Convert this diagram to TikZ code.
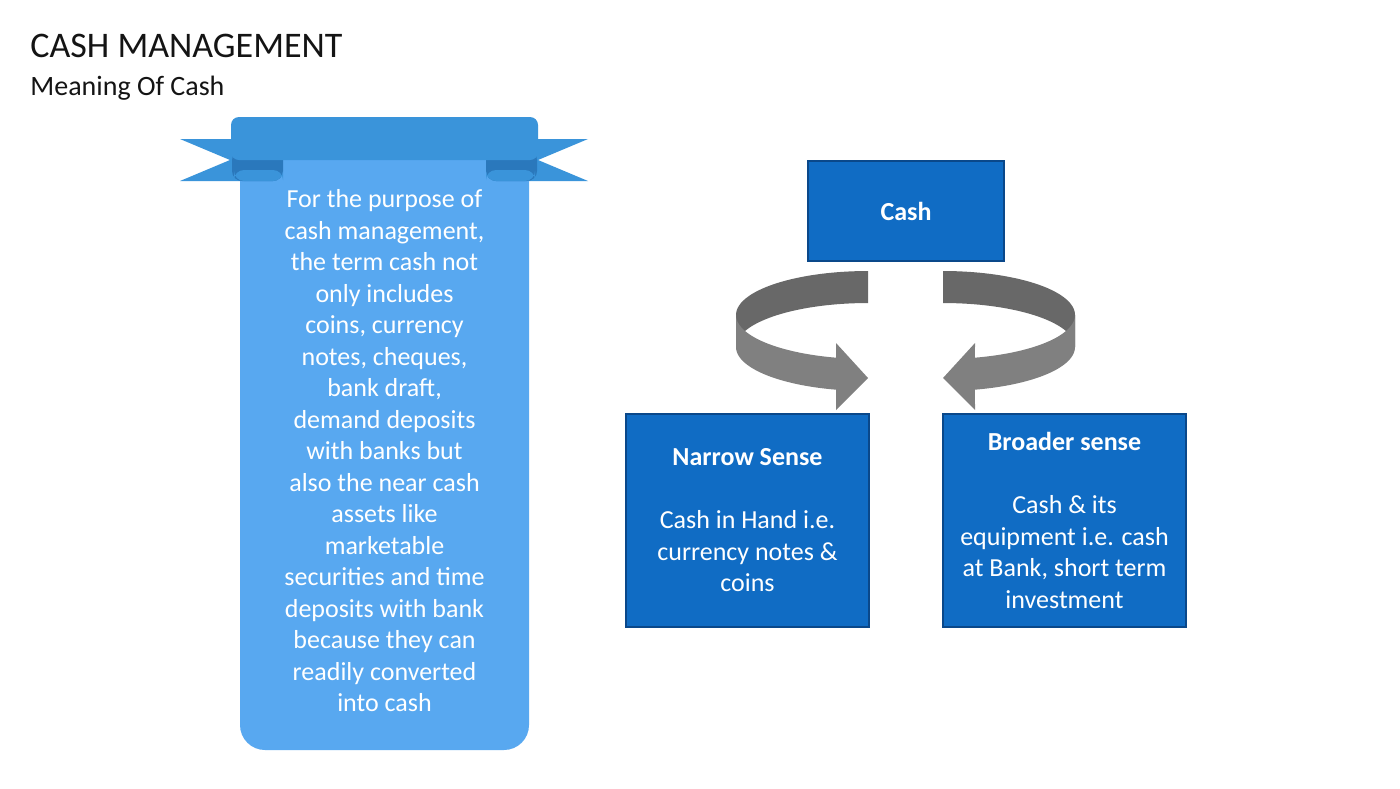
\documentclass[tikz,border=0pt]{standalone}
\usepackage{fontspec}
\setmainfont{Carlito}
\definecolor{boxblue}{RGB}{16,108,196}
\definecolor{boxedge}{RGB}{10,72,138}
\definecolor{ribbonbody}{RGB}{88,168,240}
\definecolor{ribbonband}{RGB}{58,148,218}
\definecolor{ribbonfold}{RGB}{42,120,188}
\definecolor{arrowdark}{RGB}{104,104,104}
\definecolor{arrowlight}{RGB}{128,128,128}
\definecolor{titlegray}{RGB}{20,20,20}
\begin{document}
\begin{tikzpicture}[x=0.5pt, y=-0.5pt,
    bodytext/.style={font=\fontsize{13}{15.75}\selectfont, text=white, align=center},
    bluebox/.style={fill=boxblue, draw=boxedge, line width=1pt, inner sep=0pt, bodytext,
        minimum width=121.5pt, minimum height=106.5pt},
    ring/.style={samples=40, variable=\t}
]
    \useasboundingbox[fill=white] (0,0) rectangle (1400,788);

    % Title
    \node[anchor=base west, inner sep=0pt, text=titlegray, font=\fontsize{18}{22}\selectfont] (title) at (30,57) {CASH MANAGEMENT};
    \node[anchor=base west, inner sep=0pt, text=titlegray, font=\fontsize{14}{17}\selectfont] (subtitle) at (30,95) {Meaning Of Cash};

    % Ribbon
    \fill[ribbonband] (180,139) -- (283,139) -- (283,181) -- (180,181) -- (230,160) -- cycle;
    \fill[ribbonband] (588,139) -- (486,139) -- (486,181) -- (588,181) -- (538,160) -- cycle;
    \fill[ribbonbody, rounded corners=12.5pt] (240,130) rectangle (529,750);
    \fill[ribbonfold, rounded corners=5pt] (232,150) rectangle (283,181);
    \fill[ribbonband, rounded corners=5pt] (234,170) rectangle (283,181);
    \fill[ribbonfold, rounded corners=5pt] (486,150) rectangle (537,181);
    \fill[ribbonband, rounded corners=5pt] (486,170) rectangle (535,181);
    \fill[ribbonband, rounded corners=4pt] (231,117) rectangle (538,160);
    \node[bodytext] (ribbontext) at (384.5,451) {For the purpose of\\cash management,\\the term cash not\\only includes\\coins, currency\\notes, cheques,\\bank draft,\\demand deposits\\with banks but\\also the near cash\\assets like\\marketable\\securities and time\\deposits with bank\\because they can\\readily converted\\into cash};

    % Boxes
    \node[bluebox, minimum width=98pt, minimum height=50pt] (cash) at (906,211) {\textbf{Cash}};
    \node[bluebox] (narrow) at (747.5,520.5) {\textbf{Narrow Sense}\\[15.75pt]Cash in Hand i.e.\\currency notes \&\\coins};
    \node[bluebox] (broad) at (1064.5,520.5) {\textbf{Broader sense}\\[15.75pt]Cash \& its\\equipment i.e. cash\\at Bank, short term\\investment};

    % Curved arrows
    \fill[arrowdark] plot[ring, domain=90:180] ({868+132*cos(\t)},{315-44*sin(\t)})
        -- plot[ring, domain=180:90] ({868+132*cos(\t)},{347-44*sin(\t)}) -- cycle;
    \fill[arrowlight] plot[ring, domain=180:256] ({868+132*cos(\t)},{315-44*sin(\t)})
        -- (836,343) -- (868,378) -- (836,410)
        -- plot[ring, domain=256:180] ({868+132*cos(\t)},{347-44*sin(\t)}) -- cycle;
    \fill[arrowdark] plot[ring, domain=90:180] ({943-132*cos(\t)},{315-44*sin(\t)})
        -- plot[ring, domain=180:90] ({943-132*cos(\t)},{347-44*sin(\t)}) -- cycle;
    \fill[arrowlight] plot[ring, domain=180:256] ({943-132*cos(\t)},{315-44*sin(\t)})
        -- (975,343) -- (943,378) -- (975,410)
        -- plot[ring, domain=256:180] ({943-132*cos(\t)},{347-44*sin(\t)}) -- cycle;
\end{tikzpicture}
\end{document}
